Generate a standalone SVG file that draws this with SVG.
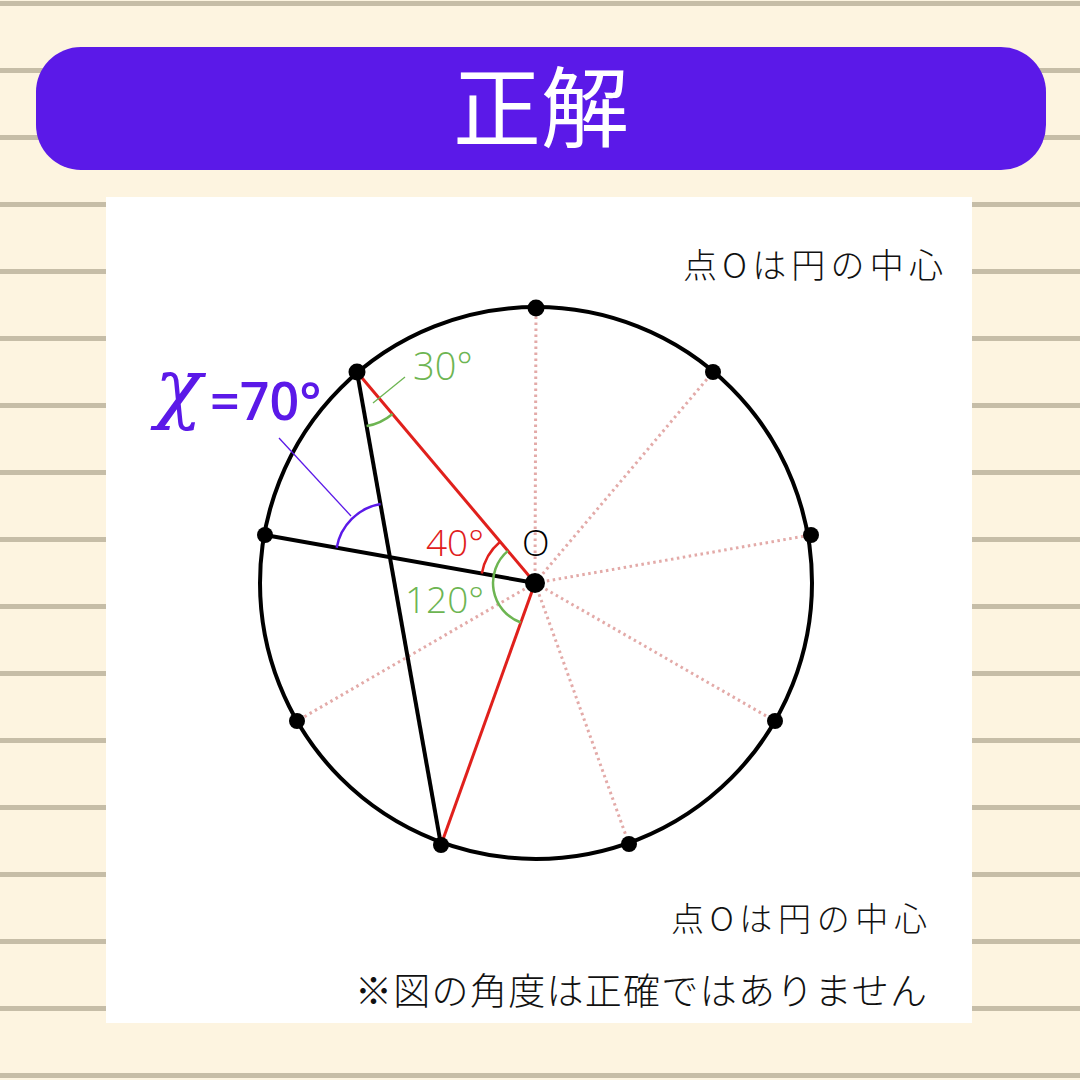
<svg xmlns="http://www.w3.org/2000/svg" width="1080" height="1080" viewBox="0 0 1080 1080">
<style>
.rule{stroke:#C6BDA7;stroke-width:5}
.circ{fill:none;stroke:#000;stroke-width:4}
.dot{fill:#000}
.dotted{stroke:#E3AAA8;stroke-width:3;stroke-dasharray:2.5 3.5;fill:none}
.red{stroke:#E0201C;stroke-width:3;fill:none}
.blk{stroke:#000;stroke-width:4;fill:none}
.garc{stroke:#6DB552;stroke-width:2.5;fill:none}
.rarc{stroke:#E0201C;stroke-width:2.5;fill:none}
.parc{stroke:#5B19E8;stroke-width:2.5;fill:none}
.num{font-family:"Open Sans","Liberation Sans",sans-serif;font-weight:300}
.jp{font-family:"Noto Sans CJK JP","Noto Sans",sans-serif;font-weight:300;fill:#111}
</style>
<rect width="1080" height="1080" fill="#FDF4E0"/>
<g id="rules">
<line class="rule" x1="0" x2="1080" y1="3.5" y2="3.5"/>
<line class="rule" x1="0" x2="1080" y1="70.5" y2="70.5"/>
<line class="rule" x1="0" x2="1080" y1="137.5" y2="137.5"/>
<line class="rule" x1="0" x2="1080" y1="204.5" y2="204.5"/>
<line class="rule" x1="0" x2="1080" y1="271.5" y2="271.5"/>
<line class="rule" x1="0" x2="1080" y1="338.5" y2="338.5"/>
<line class="rule" x1="0" x2="1080" y1="405.5" y2="405.5"/>
<line class="rule" x1="0" x2="1080" y1="472.5" y2="472.5"/>
<line class="rule" x1="0" x2="1080" y1="539.5" y2="539.5"/>
<line class="rule" x1="0" x2="1080" y1="606.5" y2="606.5"/>
<line class="rule" x1="0" x2="1080" y1="673.5" y2="673.5"/>
<line class="rule" x1="0" x2="1080" y1="740.5" y2="740.5"/>
<line class="rule" x1="0" x2="1080" y1="807.5" y2="807.5"/>
<line class="rule" x1="0" x2="1080" y1="874.5" y2="874.5"/>
<line class="rule" x1="0" x2="1080" y1="941.5" y2="941.5"/>
<line class="rule" x1="0" x2="1080" y1="1008.5" y2="1008.5"/>
<line class="rule" x1="0" x2="1080" y1="1075.5" y2="1075.5"/>
</g>
<g id="header">
<rect x="36" y="47" width="1010" height="123" rx="45" fill="#5B19E8"/>
<text x="541" y="140" text-anchor="middle" font-family="Noto Sans CJK JP, sans-serif" font-size="88" fill="#fff">正解</text>
</g>
<rect id="panel" x="106" y="197" width="866" height="826" fill="#fff"/>
<text class="jp" x="683" y="278" font-size="34" textLength="260" lengthAdjust="spacing">点Oは円の中心</text>
<g id="connectors">
<line class="dotted" x1="535" y1="583" x2="536" y2="307"/>
<line class="dotted" x1="535" y1="583" x2="713" y2="372"/>
<line class="dotted" x1="535" y1="583" x2="811" y2="535"/>
<line class="dotted" x1="535" y1="583" x2="775" y2="721"/>
<line class="dotted" x1="535" y1="583" x2="629" y2="844"/>
<line class="dotted" x1="535" y1="583" x2="297" y2="721"/>
<circle class="circ" cx="536" cy="583" r="276"/>
<line class="blk" x1="357" y1="372" x2="441" y2="845"/>
<line class="blk" x1="265" y1="535" x2="535" y2="583"/>
<line class="red" x1="535" y1="583" x2="357" y2="372"/>
<line class="red" x1="535" y1="583" x2="441" y2="845"/>
<path class="garc" d="M392.5 414 A55 55 0 0 1 366.6 426.1"/>
<path class="rarc" d="M481.8 573.5 A54 54 0 0 1 500.1 541.8"/>
<path class="garc" d="M520.8 622.5 A42 42 0 0 1 507.9 550.9"/>
<path class="parc" d="M336.7 547.7 A54 54 0 0 1 380.6 504"/>
<line x1="373" y1="403" x2="405" y2="377" stroke="#6DB552" stroke-width="1.3"/>
<line x1="279" y1="438" x2="351" y2="516" stroke="#5B19E8" stroke-width="1.3"/>
</g>
<g id="points">
<circle class="dot" cx="536" cy="308" r="8.5"/>
<circle class="dot" cx="713" cy="372" r="8"/>
<circle class="dot" cx="811" cy="535" r="8"/>
<circle class="dot" cx="775" cy="721" r="8"/>
<circle class="dot" cx="629" cy="844" r="8"/>
<circle class="dot" cx="441" cy="845" r="8"/>
<circle class="dot" cx="297" cy="721" r="8"/>
<circle class="dot" cx="265" cy="535" r="8"/>
<circle class="dot" cx="357" cy="372" r="8.5"/>
<circle class="dot" cx="535" cy="583" r="10"/>
</g>
<g id="labels">
<text class="num" x="413" y="380" font-size="38" fill="#6DB552">30°</text>
<text class="num" x="426" y="556" font-size="37" fill="#E0201C">40°</text>
<text class="num" x="522" y="556" font-size="36" fill="#000">O</text>
<text class="num" x="405" y="613" font-size="37" fill="#6DB552">120°</text>
<text x="155" y="414" font-family="DejaVu Serif, serif" font-style="italic" font-size="78" fill="#5B19E8">χ</text>
<text x="210" y="420" font-family="Open Sans, Liberation Sans, sans-serif" font-weight="600" font-size="52" fill="#5B19E8">=70°</text>
</g>
<text class="jp" x="671" y="931" font-size="33" textLength="256" lengthAdjust="spacing">点Oは円の中心</text>
<text class="jp" x="355" y="1005" font-size="37" textLength="572" lengthAdjust="spacing">※図の角度は正確ではありません</text>
</svg>
